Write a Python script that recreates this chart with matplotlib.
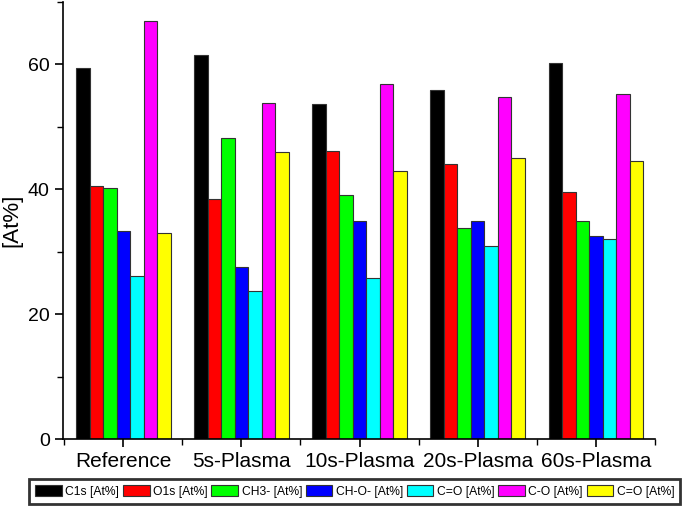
import numpy as np
import matplotlib.pyplot as plt
from matplotlib.ticker import MultipleLocator

plt.rcParams['font.family'] = ['Liberation Sans', 'DejaVu Sans']

groups = ['Reference', '5s-Plasma', '10s-Plasma', '20s-Plasma', '60s-Plasma']
series = ['C1s [At%]', 'O1s [At%]', 'CH3- [At%]', 'CH-O- [At%]', 'C=O [At%]', 'C-O [At%]', 'C=O [At%]']
colors = ['#000000', '#ff0000', '#00ff00', '#0000ff', '#00ffff', '#ff00ff', '#ffff00']

c1s = [59.4, 61.5, 53.6, 55.9, 60.3]
o1s = [40.5, 38.4, 46.2, 44.0, 39.6]
ch3 = [40.3, 48.3, 39.1, 33.9, 35.0]
cho = [33.3, 27.6, 34.9, 34.9, 32.6]
c_eq_o = [26.2, 23.8, 25.8, 30.9, 32.0]
c_o = [66.9, 53.8, 56.8, 54.8, 55.2]
c_eq_o2 = [33.0, 46.0, 42.9, 45.0, 44.5]
values = [c1s, o1s, ch3, cho, c_eq_o, c_o, c_eq_o2]

fig = plt.figure(figsize=(6.85, 5.09), dpi=100)
ax = fig.add_axes([0.092, 0.137, 0.864, 0.859])

x = np.arange(len(groups))
w = 0.8 / len(series)
for i, (vals, lab, col) in enumerate(zip(values, series, colors)):
    ax.bar(x - 0.4 + w * (i + 0.5), vals, w, color=col, edgecolor='#333333',
           linewidth=0.8, label=lab)

ax.set_xlim(-0.51, 4.5)
ax.set_ylim(0, 70)
ax.set_xticks(x)
ax.set_xticklabels(groups, fontsize=15)
ax.xaxis.set_minor_locator(MultipleLocator(1, offset=0.5))
ax.yaxis.set_major_locator(MultipleLocator(20))
ax.yaxis.set_minor_locator(MultipleLocator(10))
ax.tick_params(axis='y', labelsize=14)
ax.tick_params(which='major', length=6, width=1.2, direction='out')
ax.tick_params(which='minor', length=4, width=1.0, direction='out')
ax.set_ylabel('[At%]', fontsize=16)
ax.yaxis.set_label_coords(-0.068, 0.5)
ax.spines['top'].set_visible(False)
ax.spines['right'].set_visible(False)
ax.spines['left'].set_linewidth(1.2)
ax.spines['bottom'].set_linewidth(1.2)

leg = fig.legend(loc='center', bbox_to_anchor=(0.518, 0.035), ncol=7, fontsize=8.7,
                 frameon=True, fancybox=False, edgecolor='black',
                 handlelength=2.2, handleheight=1.1, handletextpad=0.3,
                 columnspacing=0.3, borderpad=0.5)
leg.get_frame().set_linewidth(2)

fig.savefig('out.png', dpi=100)
